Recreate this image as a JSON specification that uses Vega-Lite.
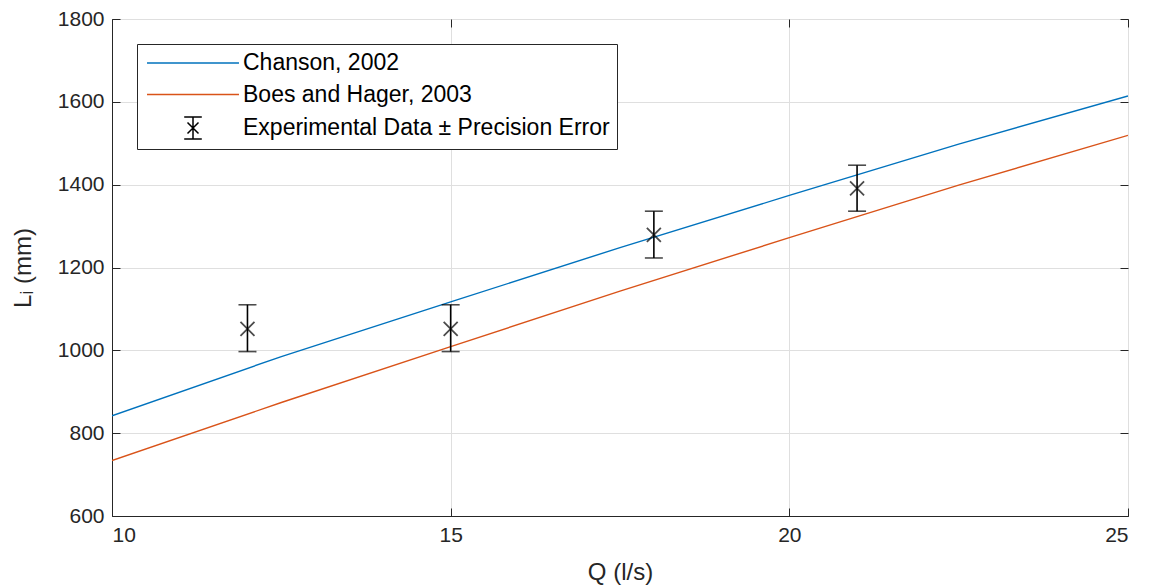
{
  "$schema": "https://vega.github.io/schema/vega-lite/v6.json",
  "width": 1016,
  "height": 497,
  "autosize": {"type": "none"},
  "padding": {"left": 112, "top": 19, "right": 28, "bottom": 72},
  "background": "white",
  "config": {
    "font": "Liberation Sans",
    "view": {"stroke": "#262626", "strokeWidth": 1},
    "axis": {
      "labelFont": "Liberation Sans",
      "titleFont": "Liberation Sans",
      "labelFontSize": 21,
      "titleFontSize": 24,
      "labelColor": "#262626",
      "titleColor": "#262626",
      "titleFontWeight": "normal",
      "domainColor": "#262626",
      "tickColor": "#262626",
      "gridColor": "#dfdfdf",
      "gridWidth": 1
    }
  },
  "datasets": {
    "lines": [
      {"series": "Chanson, 2002", "Q": 10, "L": 842},
      {"series": "Chanson, 2002", "Q": 12.5, "L": 985},
      {"series": "Chanson, 2002", "Q": 15, "L": 1117},
      {"series": "Chanson, 2002", "Q": 17.5, "L": 1248},
      {"series": "Chanson, 2002", "Q": 20, "L": 1374},
      {"series": "Chanson, 2002", "Q": 22.5, "L": 1498},
      {"series": "Chanson, 2002", "Q": 25, "L": 1614},
      {"series": "Boes and Hager, 2003", "Q": 10, "L": 734},
      {"series": "Boes and Hager, 2003", "Q": 12.5, "L": 874},
      {"series": "Boes and Hager, 2003", "Q": 15, "L": 1009},
      {"series": "Boes and Hager, 2003", "Q": 17.5, "L": 1143},
      {"series": "Boes and Hager, 2003", "Q": 20, "L": 1272},
      {"series": "Boes and Hager, 2003", "Q": 22.5, "L": 1399},
      {"series": "Boes and Hager, 2003", "Q": 25, "L": 1519}
    ],
    "exp": [
      {"Q": 12, "L": 1052, "Lmin": 997, "Lmax": 1110},
      {"Q": 15, "L": 1052, "Lmin": 997, "Lmax": 1110},
      {"Q": 18, "L": 1279, "Lmin": 1223, "Lmax": 1336},
      {"Q": 21, "L": 1391, "Lmin": 1336, "Lmax": 1447}
    ],
    "leg": [
      {"series": "Chanson, 2002"},
      {"series": "Boes and Hager, 2003"},
      {"series": "Experimental Data ± Precision Error"}
    ]
  },
  "resolve": {"axis": {"x": "independent", "y": "independent"}},
  "layer": [
    {
      "data": {"name": "lines"},
      "transform": [{"filter": "datum.series === 'Chanson, 2002'"}],
      "mark": {"type": "line", "strokeWidth": 1.4, "clip": true, "color": "#0072BD"},
      "encoding": {
        "x": {
          "field": "Q", "type": "quantitative",
          "scale": {"domain": [10, 25], "nice": false, "zero": false},
          "axis": {"orient": "bottom", "values": [10, 15, 20, 25], "title": "Q (l/s)", "tickSize": -8, "labelPadding": 16, "titlePadding": 15, "grid": true}
        },
        "y": {
          "field": "L", "type": "quantitative",
          "scale": {"domain": [600, 1800], "nice": false, "zero": false},
          "axis": {"orient": "left", "values": [600, 800, 1000, 1200, 1400, 1600, 1800], "format": "d", "title": "Lᵢ (mm)", "tickSize": -8, "labelPadding": 16, "titlePadding": 22, "grid": true}
        }
      }
    },
    {
      "data": {"name": "lines"},
      "transform": [{"filter": "datum.series === 'Boes and Hager, 2003'"}],
      "mark": {"type": "line", "strokeWidth": 1.4, "clip": true, "color": "#D95319"},
      "encoding": {
        "x": {"field": "Q", "type": "quantitative", "axis": null},
        "y": {"field": "L", "type": "quantitative", "axis": null}
      }
    },
    {
      "data": {"name": "exp"},
      "mark": {"type": "rule", "color": "black", "strokeWidth": 1.6},
      "encoding": {
        "x": {"field": "Q", "type": "quantitative", "axis": {"orient": "top", "values": [10, 15, 20, 25], "labels": false, "title": null, "grid": false, "domain": false, "tickSize": -8}},
        "y": {"field": "Lmin", "type": "quantitative", "axis": {"orient": "right", "values": [600, 800, 1000, 1200, 1400, 1600, 1800], "labels": false, "title": null, "grid": false, "domain": false, "tickSize": -8}},
        "y2": {"field": "Lmax"}
      }
    },
    {
      "data": {"name": "exp"},
      "mark": {"type": "tick", "orient": "horizontal", "color": "black", "size": 18, "thickness": 1.6},
      "encoding": {
        "x": {"field": "Q", "type": "quantitative", "axis": null},
        "y": {"field": "Lmin", "type": "quantitative", "axis": null}
      }
    },
    {
      "data": {"name": "exp"},
      "mark": {"type": "tick", "orient": "horizontal", "color": "black", "size": 18, "thickness": 1.6},
      "encoding": {
        "x": {"field": "Q", "type": "quantitative", "axis": null},
        "y": {"field": "Lmax", "type": "quantitative", "axis": null}
      }
    },
    {
      "data": {"name": "exp"},
      "mark": {"type": "point", "shape": "M-1,-1L1,1M-1,1L1,-1", "size": 196, "filled": false, "color": "black", "strokeWidth": 1.8},
      "encoding": {
        "x": {"field": "Q", "type": "quantitative", "axis": null},
        "y": {"field": "L", "type": "quantitative", "axis": null}
      }
    },
    {
      "data": {"name": "leg"},
      "mark": {"type": "point", "filled": false, "opacity": 0},
      "encoding": {
        "color": {
          "field": "series", "type": "nominal",
          "scale": {"domain": ["Chanson, 2002", "Boes and Hager, 2003", "Experimental Data ± Precision Error"], "range": ["#0072BD", "#D95319", "#000000"]},
          "legend": {
            "title": null,
            "orient": "none",
            "legendX": 25,
            "legendY": 25,
            "padding": 7,
            "strokeColor": "#262626",
            "fillColor": "white",
            "symbolSize": 484,
            "symbolStrokeWidth": 1.5,
            "symbolOpacity": 1,
            "symbolOffset": 37,
            "labelOffset": 38,
            "labelFont": "Liberation Sans",
            "labelFontSize": 23,
            "labelColor": "#000000",
            "labelLimit": 600,
            "rowPadding": 7.5
          }
        },
        "shape": {
          "field": "series", "type": "nominal",
          "scale": {"domain": ["Chanson, 2002", "Boes and Hager, 2003", "Experimental Data ± Precision Error"], "range": ["M-4.18,0L4.18,0", "M-4.18,0L4.18,0", "M-0.8,-1L0.8,-1M0,-1L0,1M-0.8,1L0.8,1M-0.5,-0.5L0.5,0.5M-0.5,0.5L0.5,-0.5"]},
          "legend": {
            "title": null,
            "orient": "none",
            "legendX": 25,
            "legendY": 25,
            "padding": 7,
            "strokeColor": "#262626",
            "fillColor": "white",
            "symbolSize": 484,
            "symbolStrokeWidth": 1.5,
            "symbolOpacity": 1,
            "symbolOffset": 37,
            "labelOffset": 38,
            "labelFont": "Liberation Sans",
            "labelFontSize": 23,
            "labelColor": "#000000",
            "labelLimit": 600,
            "rowPadding": 7.5
          }
        }
      }
    }
  ]
}
